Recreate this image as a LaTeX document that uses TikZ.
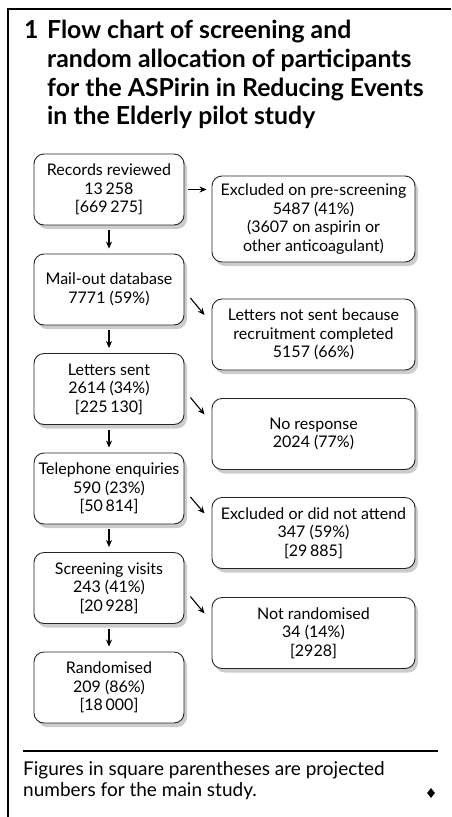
\documentclass[tikz,border=0pt]{standalone}
\usepackage{fontspec}
\setmainfont{Lato}
\usetikzlibrary{shadows,arrows.meta,calc,shapes.geometric}
\begin{document}
\begin{tikzpicture}[x=1pt,y=1pt,
  box/.style={draw=black!85, line width=0.9pt, rounded corners=10pt, fill=white, align=center,
    font=\fontsize{16}{18.5}\selectfont, inner sep=0pt,
    drop shadow={shadow xshift=3pt, shadow yshift=-4pt, fill=black!40, opacity=0.5}},
  lbox/.style={box, minimum width=150pt, minimum height=71pt},
  rbox/.style={box, minimum width=203pt, minimum height=71pt},
  arr/.style={line width=1.1pt, -{Stealth[length=7pt,width=6pt]}},
  frame/.style={line width=2pt}]
\useasboundingbox (0,0) rectangle (451,-817);
% frame
\draw[frame] (8,-817) -- (8,-9) -- (451,-9);
% title
\node[anchor=north west, align=left, inner sep=0pt,
  font=\fontsize{24.8}{28.7}\selectfont\bfseries] (title) at (24,-20)
  {\makebox[23pt][l]{1}Flow chart of screening and\\
   \hspace*{23pt}random allocation of participants\\
   \hspace*{23pt}for the ASPirin in Reducing Events\\
   \hspace*{23pt}in the Elderly pilot study};
% left column
\node[lbox] (rec) at (109,-189.5) {Records reviewed\\13\,258\\{[}669\,275]};
\node[lbox] (mail) at (109,-289.5) {Mail-out database\\7771 (59\%)};
\node[lbox] (sent) at (109,-389) {Letters sent\\2614 (34\%)\\{[}225\,130]};
\node[lbox] (tel) at (109,-488.5) {Telephone enquiries\\590 (23\%)\\{[}50\,814]};
\node[lbox] (scr) at (109,-588) {Screening visits\\243 (41\%)\\{[}20\,928]};
\node[lbox] (rand) at (109,-687.5) {Randomised\\209 (86\%)\\{[}18\,000]};
% right column
\node[rbox, minimum height=86pt] (excl) at (313.5,-219) {Excluded on pre-screening\\5487 (41\%)\\(3607 on aspirin or\\other anticoagulant)};
\node[rbox] (lns) at (313.5,-334.5) {Letters not sent because\\recruitment completed\\5157 (66\%)};
\node[rbox] (nor) at (313.5,-434) {No response\\2024 (77\%)};
\node[rbox] (exc2) at (313.5,-533) {Excluded or did not attend\\347 (59\%)\\{[}29\,885]};
\node[rbox] (nrand) at (313.5,-633) {Not randomised\\34 (14\%)\\{[}2928]};
% vertical arrows
\foreach \a/\b in {rec/mail, mail/sent, sent/tel, tel/scr, scr/rand}
  \draw[arr] ([yshift=-5pt]\a.south) -- ([yshift=5pt]\b.north);
% horizontal arrow
\draw[arr] ([xshift=4pt]rec.east) -- ([xshift=-5pt]rec.east -| excl.west);
% diagonal arrows
\foreach \a/\b in {mail/lns, sent/nor, tel/exc2, scr/nrand}
  \draw[arr] ([shift={(6pt,-8.5pt)}]\a.east) -- ([shift={(-7pt,19.5pt)}]\b.west);
% footnote
\draw[line width=1.5pt] (23,-751) coordinate (fl) -- (438,-751) coordinate (fr);
\node[anchor=north west, align=left, inner sep=0pt, font=\fontsize{19}{21}\selectfont] (foot) at (23,-761)
  {Figures in square parentheses are projected\\numbers for the main study.};
\node[fill=black, diamond, inner sep=0pt, minimum width=8pt, minimum height=10pt] (dia) at (431,-793) {};
\end{tikzpicture}
\end{document}
